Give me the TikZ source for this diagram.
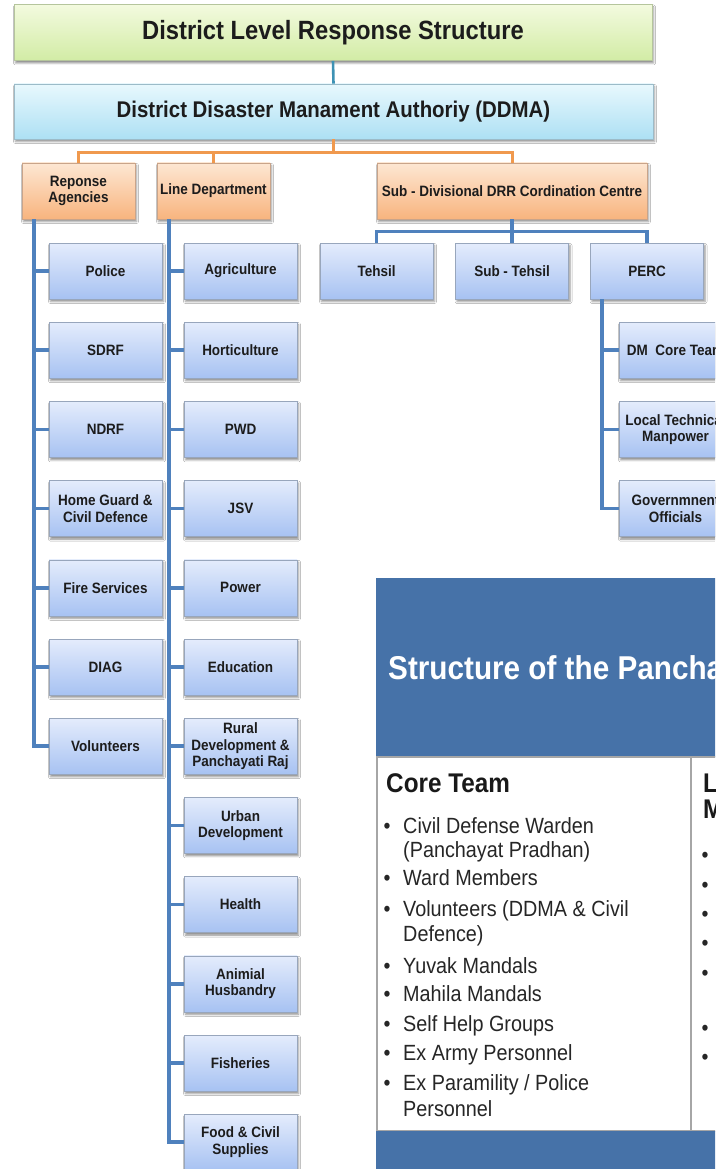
\documentclass[tikz,border=0pt]{standalone}
\usepackage{fontspec}
\setmainfont[FakeStretch=0.9]{Liberation Sans}
\usetikzlibrary{shadows.blur}
\definecolor{bTop}{HTML}{E4ECFC}
\definecolor{bBot}{HTML}{A7C2F2}
\definecolor{bEdge}{HTML}{98A6BC}
\definecolor{oTop}{HTML}{FDE7D3}
\definecolor{oBot}{HTML}{F8B47E}
\definecolor{oEdge}{HTML}{C9A48A}
\definecolor{gTop}{HTML}{F3FADF}
\definecolor{gBot}{HTML}{D2ECA5}
\definecolor{gEdge}{HTML}{B5C59C}
\definecolor{cTop}{HTML}{E8F8FD}
\definecolor{cBot}{HTML}{ADE0F4}
\definecolor{cEdge}{HTML}{9CBBC8}
\definecolor{lineblue}{HTML}{4F81BD}
\definecolor{lineorange}{HTML}{F0994E}
\definecolor{lineteal}{HTML}{3E92B4}
\definecolor{panelblue}{HTML}{4672A8}
\definecolor{panelgray}{HTML}{A6A6A6}
\definecolor{txt}{HTML}{1C1C1C}
\tikzset{
  shad/.style={blur shadow={shadow xshift=1.5pt, shadow yshift=-2.5pt, shadow blur radius=2pt, shadow opacity=45}},
  box/.style={shad, line width=0.6pt, minimum width=113pt, minimum height=56pt, inner sep=1pt,
    align=center, text=txt, font=\fontsize{15}{16.5}\selectfont\bfseries},
  bluebox/.style={box, draw=bEdge, top color=bTop, bottom color=bBot},
  orangebox/.style={box, draw=oEdge, top color=oTop, bottom color=oBot},
  titlebox/.style={shad, draw=gEdge, line width=0.6pt, top color=gTop, bottom color=gBot,
    minimum width=638pt, minimum height=56pt, text=txt, font=\fontsize{26.4}{28}\selectfont\bfseries},
  ddmabox/.style={shad, draw=cEdge, line width=0.6pt, top color=cTop, bottom color=cBot,
    minimum width=639pt, minimum height=55pt, text=txt, font=\fontsize{22.7}{24}\selectfont\bfseries},
  blueline/.style={draw=lineblue, line width=3.6pt},
  orangeline/.style={draw=lineorange, line width=3pt},
  tealline/.style={draw=lineteal, line width=2.6pt},
  itemtext/.style={anchor=base west, inner sep=0pt, text=black!85, font=\fontsize{22}{24}\selectfont},
  bul/.style={anchor=base, inner sep=0pt, text=black!85, font=\fontsize{22}{24}\selectfont},
  headtext/.style={anchor=base west, inner sep=0pt, text=black!90, font=\fontsize{27}{28}\selectfont\bfseries}
}
\begin{document}
\begin{tikzpicture}[x=1pt,y=-1pt]
\useasboundingbox (0,0) rectangle (715,1169);
\clip (0,0) rectangle (715,1169);
\fill[white] (0,0) rectangle (715,1169);

% top
\node[titlebox] (title) at (333,32.5) {District Level Response Structure};
\node[ddmabox] (ddma) at (333.5,111.5) {District Disaster Manament Authoriy (DDMA)};
\draw[tealline] (title.south) -- (ddma.north);

% second level
\node[orangebox] (ra) at (78.5,191) {Reponse\\Agencies};
\node[orangebox] (ld) at (213.5,191) {Line Department};
\node[orangebox, minimum width=270pt] (sd) at (512,191) {Sub - Divisional DRR Cordination Centre};

\draw[orangeline] (ddma.south) -- ++(0,13) coordinate (ob);
\draw[orangeline] (ra.north) |- (ob) -| (sd.north);
\draw[orangeline] (ld.north) -- (ld.north |- ob);

% response agencies column
\node[bluebox] (police) at (105.5,271)   {Police};
\node[bluebox] (sdrf)   at (105.5,350.2) {SDRF};
\node[bluebox] (ndrf)   at (105.5,429.4) {NDRF};
\node[bluebox] (hg)     at (105.5,508.6) {Home Guard \&\\Civil Defence};
\node[bluebox] (fire)   at (105.5,587.8) {Fire Services};
\node[bluebox] (diag)   at (105.5,667)   {DIAG};
\node[bluebox] (vol)    at (105.5,746.2) {Volunteers};

\coordinate (va) at ([xshift=12pt]ra.south west);
\draw[blueline] (va) |- (vol.west);
\foreach \n in {police,sdrf,ndrf,hg,fire,diag}
  \draw[blueline] (\n.west) -- (\n.west -| va);

% line department column
\node[bluebox] (agri)  at (240.5,271)    {Agriculture};
\node[bluebox] (hort)  at (240.5,350.2)  {Horticulture};
\node[bluebox] (pwd)   at (240.5,429.4)  {PWD};
\node[bluebox] (jsv)   at (240.5,508.6)  {JSV};
\node[bluebox] (power) at (240.5,587.8)  {Power};
\node[bluebox] (edu)   at (240.5,667)    {Education};
\node[bluebox] (rural) at (240.5,746.2)  {Rural\\Development \&\\Panchayati Raj};
\node[bluebox] (urban) at (240.5,825.4)  {Urban\\Development};
\node[bluebox] (health) at (240.5,904.6) {Health};
\node[bluebox] (anim)  at (240.5,983.8)  {Animial\\Husbandry};
\node[bluebox] (fish)  at (240.5,1063)   {Fisheries};
\node[bluebox] (food)  at (240.5,1142.2) {Food \& Civil\\Supplies};

\coordinate (vb) at ([xshift=12pt]ld.south west);
\draw[blueline] (vb) |- (food.west);
\foreach \n in {agri,hort,pwd,jsv,power,edu,rural,urban,health,anim,fish}
  \draw[blueline] (\n.west) -- (\n.west -| vb);

% sub-divisional branch
\node[bluebox] (tehsil) at (376.5,271) {Tehsil};
\node[bluebox] (subt)   at (512,271)   {Sub - Tehsil};
\node[bluebox] (perc)   at (647,271)   {PERC};
\draw[blueline] (sd.south) -- ++(0,12) coordinate (sb);
\draw[blueline] (tehsil.north) |- (sb) -| (perc.north);
\draw[blueline] (subt.north) -- (subt.north |- sb);

\node[bluebox] (dm)  at (675.5,350.2) {DM\ \ Core Team};
\node[bluebox] (ltm) at (675.5,429.4) {Local Technical\\Manpower};
\node[bluebox] (gov) at (675.5,508.6) {Governmnent\\Officials};
\coordinate (vp) at ([xshift=12pt]perc.south west);
\draw[blueline] (vp) |- (gov.west);
\foreach \n in {dm,ltm}
  \draw[blueline] (\n.west) -- (\n.west -| vp);

% panel
\fill[panelblue] (376,578) rectangle (716,757);
\node[anchor=base west, inner sep=0pt, text=white, font=\fontsize{33}{34}\selectfont\bfseries] (ptitle) at (388,679) {Structure of the Pancha};
\draw[panelgray, line width=1.3pt, fill=white] (377,757) rectangle (717,1131);
\draw[panelgray, line width=1.3pt] (691,757) -- (691,1131);
\fill[panelblue] (376,1131) rectangle (716,1170);

\node[headtext] (core) at (386,792) {Core Team};
\node[headtext] (rhL) at (703,792) {L};
\node[headtext] (rhM) at (703,818) {M};

\foreach \y [count=\i] in {833,885,916,973,1001,1031,1060,1090}
  \node[bul] (lb\i) at (387,\y) {•};
\node[itemtext] (t1)  at (403,833)  {Civil Defense Warden};
\node[itemtext] (t2)  at (403,857)  {(Panchayat Pradhan)};
\node[itemtext] (t3)  at (403,885)  {Ward Members};
\node[itemtext] (t4)  at (403,916)  {Volunteers (DDMA \& Civil};
\node[itemtext] (t5)  at (403,941)  {Defence)};
\node[itemtext] (t6)  at (403,973)  {Yuvak Mandals};
\node[itemtext] (t7)  at (403,1001) {Mahila Mandals};
\node[itemtext] (t8)  at (403,1031) {Self Help Groups};
\node[itemtext] (t9)  at (403,1060) {Ex Army Personnel};
\node[itemtext] (t10) at (403,1090) {Ex Paramility / Police};
\node[itemtext] (t11) at (403,1116) {Personnel};

\foreach \y [count=\i] in {862,892,921,950,980,1035,1064}
  \node[bul] (rb\i) at (705,\y) {•};
\end{tikzpicture}
\end{document}
